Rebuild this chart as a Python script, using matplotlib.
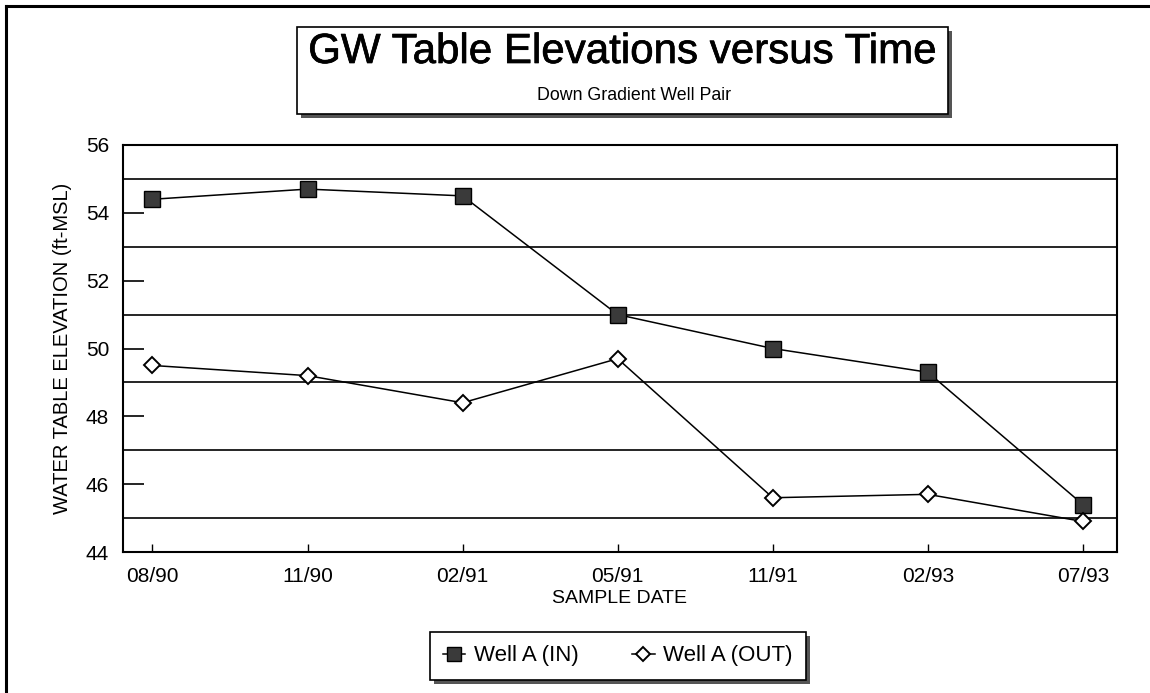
import matplotlib
matplotlib.use("Agg")
import matplotlib.pyplot as plt
from matplotlib.patches import Rectangle
from matplotlib.lines import Line2D
import matplotlib.patheffects as pe

plt.rcParams["font.family"] = ["Liberation Sans", "DejaVu Sans"]

dates = ["08/90", "11/90", "02/91", "05/91", "11/91", "02/93", "07/93"]
well_in = [54.4, 54.7, 54.5, 51.0, 50.0, 49.3, 45.4]
well_out = [49.5, 49.2, 48.4, 49.7, 45.6, 45.7, 44.9]
grid_levels = [45, 47, 49, 51, 53, 55]
y_ticks = [44, 46, 48, 50, 52, 54, 56]

fig = plt.figure(figsize=(11.5, 6.93), dpi=100)
W, H = 1150, 693

# slightly heavier strokes for the title
heavy = [pe.withStroke(linewidth=0.5, foreground="black")]

def fx(px):
    return px / W

def fy(py):
    return 1 - py / H

# page frame (left and top edges)
fig.add_artist(Line2D([fx(6), fx(6)], [fy(6), 0], color="black", lw=2.2))
fig.add_artist(Line2D([fx(6), 1], [fy(6), fy(6)], color="black", lw=2.2))

# boxes with a drop shadow
def shadow_box(x0, y0, x1, y1):
    sh = 4
    fig.add_artist(Rectangle((fx(x0 + sh), fy(y1 + sh)), fx(x1 - x0), (y1 - y0) / H,
                             facecolor="#555555", edgecolor="none", zorder=1))
    fig.add_artist(Rectangle((fx(x0), fy(y1)), fx(x1 - x0), (y1 - y0) / H,
                             facecolor="white", edgecolor="black", lw=1.2, zorder=2))

shadow_box(297, 27, 948, 114)
fig.text(fx(623), fy(52), "GW Table Elevations versus Time", fontsize=30.3,
         ha="center", va="center", zorder=3, path_effects=heavy)
fig.text(fx(634), fy(96), "Down Gradient Well Pair", fontsize=12.8,
         ha="center", va="center", zorder=3)

ax = fig.add_axes([fx(123), fy(552), fx(1117 - 123), (552 - 145) / H])
x = list(range(len(dates)))

for g in grid_levels:
    ax.axhline(g, color="black", lw=1.2, zorder=1)

ax.plot(x, well_in, color="black", lw=1.1, marker="s", markersize=11,
        markerfacecolor="#3a3a3a", markeredgecolor="black", zorder=3,
        label="Well A (IN)")
ax.plot(x, well_out, color="black", lw=1.1, marker="D", markersize=8,
        markerfacecolor="white", markeredgecolor="black", markeredgewidth=1.4,
        zorder=3, label="Well A (OUT)")

ax.set_xlim(-0.19, 6.22)
ax.set_ylim(44, 56)
ax.set_xticks(x)
ax.set_xticklabels(dates, fontsize=15)
ax.set_yticks(y_ticks)
ax.set_yticklabels([str(v) for v in y_ticks], fontsize=15)
ax.tick_params(axis="y", direction="in", length=15, width=1.2, pad=10)
ax.tick_params(axis="x", direction="in", length=6, width=1.0, pad=11)
for s in ax.spines.values():
    s.set_linewidth(1.5)

ax.set_xlabel("SAMPLE DATE", fontsize=14, labelpad=3)
ax.set_ylabel("WATER TABLE ELEVATION (ft-MSL)", fontsize=14.5, labelpad=10)

# legend box
shadow_box(430, 632, 806, 680)
handles, labels = ax.get_legend_handles_labels()
leg = fig.legend(handles, labels, loc="center", bbox_to_anchor=(fx(618), fy(656)),
                 ncol=2, frameon=False, fontsize=16, handlelength=1.0,
                 handletextpad=0.4, columnspacing=2.4, markerscale=0.9)
leg.set_zorder(4)

fig.savefig("out.png", dpi=100)
